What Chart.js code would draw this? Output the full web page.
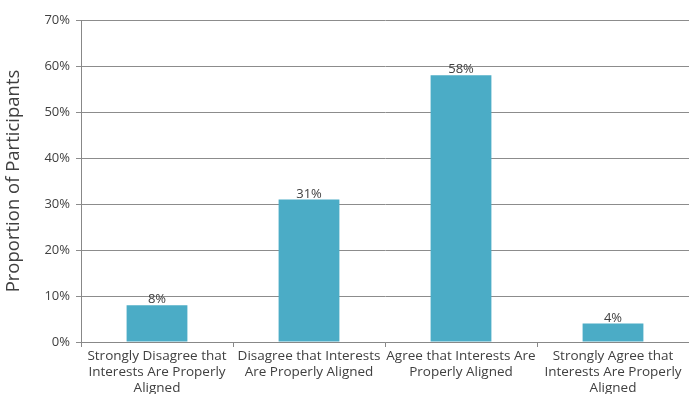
<!DOCTYPE html>
<html>
<head>
<meta charset="utf-8">
<script src="https://cdn.jsdelivr.net/npm/chart.js@4"></script>
<style>
  html, body { margin: 0; padding: 0; background: #fff; }
  #wrap { width: 689px; height: 394px; position: relative; }
</style>
</head>
<body>
<div id="wrap"><canvas id="c"></canvas></div>
<script>
// Survey responses on alignment of interests
const categories = [
  ["Strongly Disagree that", "Interests Are Properly", "Aligned"],
  ["Disagree that Interests", "Are Properly Aligned"],
  ["Agree that Interests Are", "Properly Aligned"],
  ["Strongly Agree that", "Interests Are Properly", "Aligned"]
];
const proportions = [8, 31, 58, 4];
const yTicks = [0, 10, 20, 30, 40, 50, 60, 70];

const FONT = "'Open Sans', Lato, sans-serif";
const TEXT = '#404040';

// Percent labels above each bar
const valueLabels = {
  id: 'valueLabels',
  afterDatasetsDraw(chart) {
    const { ctx } = chart;
    const meta = chart.getDatasetMeta(0);
    ctx.save();
    ctx.font = '13px ' + FONT;
    ctx.fillStyle = TEXT;
    ctx.textAlign = 'center';
    ctx.textBaseline = 'bottom';
    meta.data.forEach((bar, i) => {
      ctx.fillText(proportions[i] + '%', bar.x, bar.y + 1);
    });
    ctx.restore();
  }
};

new Chart(document.getElementById('c'), {
  type: 'bar',
  data: {
    labels: categories,
    datasets: [{
      data: proportions,
      backgroundColor: '#4BACC6',
      borderWidth: 0,
      barPercentage: 0.8,
      categoryPercentage: 0.5
    }]
  },
  options: {
    responsive: true,
    maintainAspectRatio: false,
    animation: false,
    layout: { padding: { top: 20, right: 0, left: 0, bottom: 0 } },
    plugins: { legend: { display: false }, tooltip: { enabled: false } },
    scales: {
      x: {
        offset: true,
        grid: {
          offset: true,
          drawOnChartArea: false,
          drawTicks: true,
          tickLength: 5,
          color: '#888888'
        },
        border: { color: '#888888', width: 1 },
        ticks: {
          color: TEXT,
          font: { family: FONT, size: 13.5, lineHeight: 1.2 },
          maxRotation: 0,
          autoSkip: false,
          padding: 1
        },
        afterFit(scale) { scale.height = 52; }
      },
      y: {
        min: 0,
        max: 70,
        afterBuildTicks(scale) { scale.ticks = yTicks.map(v => ({ value: v })); },
        grid: {
          color: '#8c8c8c',
          drawTicks: true,
          tickLength: 5
        },
        border: { color: '#888888', width: 1 },
        ticks: {
          color: TEXT,
          font: { family: FONT, size: 13 },
          padding: 6,
          callback: v => v + '%'
        },
        title: {
          display: true,
          text: 'Proportion of Participants',
          color: TEXT,
          font: { family: FONT, size: 18.5 },
          padding: { top: 3, bottom: 6 }
        },
        afterFit(scale) { scale.width = 81; }
      }
    }
  },
  plugins: [valueLabels]
});
</script>
</body>
</html>
